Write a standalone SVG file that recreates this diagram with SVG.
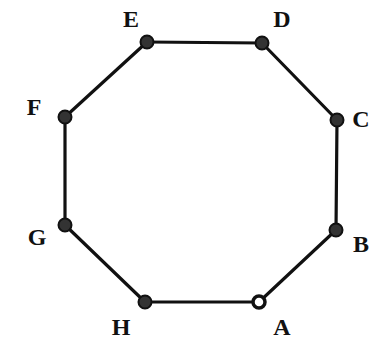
<svg xmlns="http://www.w3.org/2000/svg" width="370" height="340" viewBox="0 0 370 340">
<style>
.edge{stroke:#111;stroke-width:3.2;fill:none;stroke-linecap:round}
.dot{fill:#333;stroke:#111;stroke-width:2}
.open{fill:#fff;stroke:#111;stroke-width:3.5}
.lbl{font-family:"Liberation Serif",serif;font-weight:bold;font-size:24px;fill:#111;text-anchor:middle}
</style>
<rect width="370" height="340" fill="#fff"/>
<g id="connectors">
<line class="edge" x1="147" y1="42" x2="262" y2="43"/>
<line class="edge" x1="262" y1="43" x2="337" y2="120"/>
<line class="edge" x1="337" y1="120" x2="336" y2="230"/>
<line class="edge" x1="336" y1="230" x2="259" y2="302"/>
<line class="edge" x1="259" y1="302" x2="145" y2="302"/>
<line class="edge" x1="145" y1="302" x2="65" y2="225"/>
<line class="edge" x1="65" y1="225" x2="65" y2="117"/>
<line class="edge" x1="65" y1="117" x2="147" y2="42"/>
</g>
<g id="E"><circle class="dot" cx="147" cy="42" r="6.5"/><text class="lbl" x="131" y="27">E</text></g>
<g id="D"><circle class="dot" cx="262" cy="43" r="6.5"/><text class="lbl" x="282" y="27">D</text></g>
<g id="C"><circle class="dot" cx="337" cy="120" r="6.5"/><text class="lbl" x="361" y="127">C</text></g>
<g id="B"><circle class="dot" cx="336" cy="230" r="6.5"/><text class="lbl" x="361" y="252">B</text></g>
<g id="A"><circle class="open" cx="259" cy="302" r="6"/><text class="lbl" x="282" y="335">A</text></g>
<g id="H"><circle class="dot" cx="145" cy="302" r="6.5"/><text class="lbl" x="121" y="335">H</text></g>
<g id="G"><circle class="dot" cx="65" cy="225" r="6.5"/><text class="lbl" x="37" y="245">G</text></g>
<g id="F"><circle class="dot" cx="65" cy="117" r="6.5"/><text class="lbl" x="34" y="115">F</text></g>
</svg>
